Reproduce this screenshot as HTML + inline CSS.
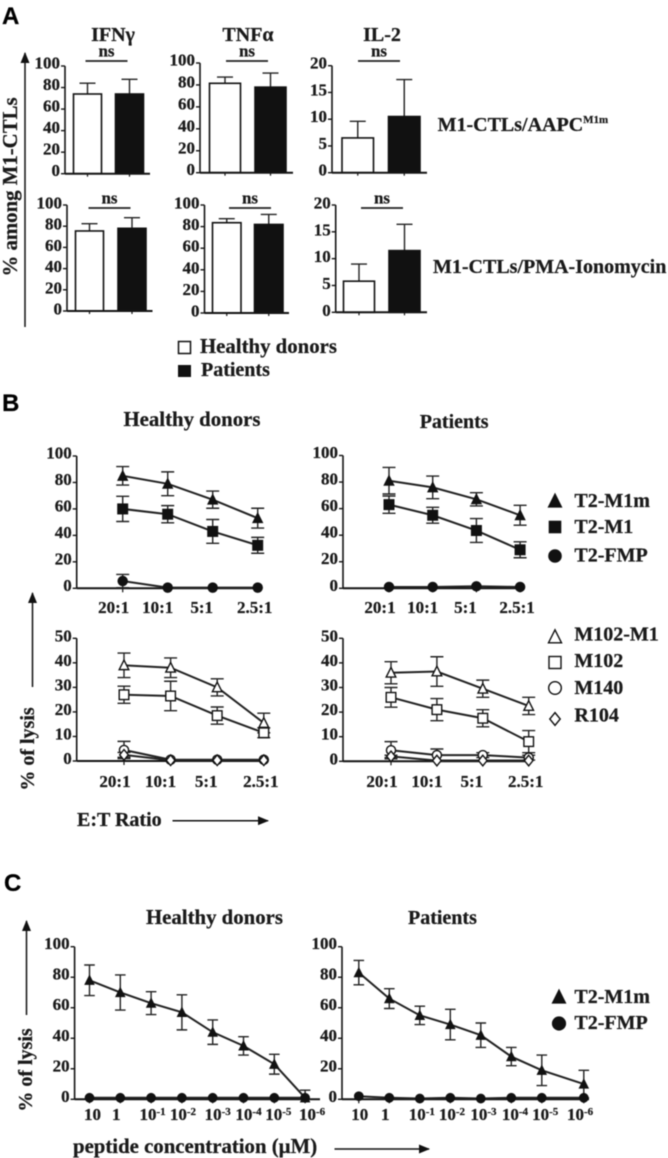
<!DOCTYPE html>
<html lang="en">
<head>
<meta charset="utf-8">
<title>Lysis and cytokine panels</title>
<style>
html,body{margin:0;padding:0;background:#fff;}
svg{display:block;filter:blur(0.6px);}
text{font-family:"Liberation Serif",serif;font-weight:bold;fill:#1a1a1a;stroke:#1a1a1a;stroke-width:0.25px;}
.h{font-family:"Liberation Sans",sans-serif;font-size:24px;fill:#000;stroke:#000;}
.t{font-size:20px;}
.w{font-size:20.8px;}
.n{font-size:17px;}
</style>
</head>
<body>
<svg id="figure" width="668" height="1158" viewBox="0 0 668 1158" xmlns="http://www.w3.org/2000/svg">
  <defs>
    <marker id="ah" markerWidth="11" markerHeight="9" refX="10" refY="4.5" orient="auto" markerUnits="userSpaceOnUse"><path d="M0,0L11,4.5L0,9Z" fill="#111"/></marker>
  </defs>
  <text class="h" x="2" y="24">A</text>
  <text class="h" x="2" y="411">B</text>
  <text class="h" x="4" y="891">C</text>

  <text class="t" x="113" y="41" text-anchor="middle">IFNγ</text>
  <text class="t" x="248" y="41" text-anchor="middle">TNFα</text>
  <text class="t" x="382" y="41" text-anchor="middle">IL-2</text>
  <text class="w" x="0" y="0" transform="translate(17,187) rotate(-90)" text-anchor="middle">% among M1-CTLs</text>
  <line x1="25" y1="327" x2="25" y2="53" stroke="#111" stroke-width="1.5" marker-end="url(#ah)"/>
  <text class="t" x="437.6" y="131">M1-CTLs/AAPC<tspan font-size="11" dy="-8">M1m</tspan></text>
  <text class="t" x="433" y="273">M1-CTLs/PMA-Ionomycin</text>
  <rect x="178.5" y="341.5" width="12" height="12" fill="#fff" stroke="#111" stroke-width="1.5"/>
  <text class="w" x="200" y="353">Healthy donors</text>
  <rect x="178" y="365" width="13" height="12" fill="#111"/>
  <text class="t" x="201" y="376">Patients</text>

  <text class="w" x="123.5" y="426">Healthy donors</text>
  <text class="t" x="419.7" y="428">Patients</text>
  <text class="t" x="0" y="0" transform="translate(34,749) rotate(-90)" text-anchor="middle">% of lysis</text>
  <line x1="32.5" y1="687" x2="32.5" y2="593" stroke="#111" stroke-width="1.5" marker-end="url(#ah)"/>
  <text class="t" x="77" y="826">E:T Ratio</text>
  <line x1="172.5" y1="820.7" x2="268" y2="820.7" stroke="#111" stroke-width="1.5" marker-end="url(#ah)"/>

  <text class="w" x="146" y="924">Healthy donors</text>
  <text class="t" x="408" y="924">Patients</text>
  <text class="t" x="0" y="0" transform="translate(32,1070) rotate(-90)" text-anchor="middle">% of lysis</text>
  <line x1="26.5" y1="1015" x2="26.5" y2="921" stroke="#111" stroke-width="1.5" marker-end="url(#ah)"/>
  <text class="w" x="73" y="1153">peptide concentration (µM)</text>
  <line x1="334.5" y1="1149" x2="429" y2="1149" stroke="#111" stroke-width="1.5" marker-end="url(#ah)"/>
</svg>
<script>
// ---- Panel A data (percent or IL-2 scale) ----
const yTicks100 = [0, 20, 40, 60, 80, 100];
const yTicks50 = [0, 10, 20, 30, 40, 50];
const yTicks20 = [0, 5, 10, 15, 20];
const cytokines = ['ifn-gamma', 'tnf-alpha', 'il2'];
const aapcHealthy = [74, 81.5, 6.5];
const aapcHealthyErr = [10, 5.7, 3.1];
const aapcPatients = [74, 78, 10.5];
const aapcPatientsErr = [13.6, 12.8, 6.9];
const pmaHealthy = [75.5, 83.6, 5.8];
const pmaHealthyErr = [6.9, 3.7, 3.2];
const pmaPatients = [78, 82, 11.5];
const pmaPatientsErr = [10, 9.3, 4.9];

// ---- Panel B data ----
const ratioLabels = ['20:1', '10:1', '5:1', '2.5:1'];
const hdM1m = [85, 79, 67, 53];
const hdM1mErr = [7, 9, 6.5, 7.5];
const hdM1 = [60, 56, 43, 32.5];
const hdM1Err = [9.5, 6.5, 9, 6];
const hdFmp = [5.5, 0.5, 0.5, 0.5];
const hdFmpErr = [5, 0, 0, 0];
const ptM1m = [81, 76, 67, 55];
const ptM1mErr = [10, 8.5, 5, 7.5];
const ptM1 = [63, 55, 43.5, 29];
const ptM1Err = [6.5, 6, 9, 6];
const ptFmp = [1, 1, 1.5, 1];
const ptFmpErr = [0, 0, 0, 0];
const hdM102M1 = [39, 38, 30, 15.5];
const hdM102M1Err = [5, 4, 3.5, 4];
const hdM102 = [27, 26.5, 18.5, 11.5];
const hdM102Err = [3.5, 6, 3.5, 2];
const hdM140 = [4.5, 0.5, 0.5, 0.5];
const hdM140Err = [3.5, 0, 0, 0];
const hdR104 = [2.5, 0.3, 0.3, 0.3];
const hdR104Err = [1, 0, 0, 0];
const ptM102M1 = [36, 36.5, 29.5, 22.5];
const ptM102M1Err = [4.5, 6, 3.5, 3.5];
const ptM102 = [26, 21, 17.5, 8];
const ptM102Err = [4, 4.5, 3.5, 4.5];
const ptM140 = [4.5, 2.5, 2.5, 1.5];
const ptM140Err = [3.5, 2.5, 1, 1];
const ptR104 = [2, 0.3, 0.3, 0.3];
const ptR104Err = [0.5, 0, 0, 0];

// ---- Panel C data ----
const concBase = ['10', '1', '10', '10', '10', '10', '10', '10'];
const concExp = ['', '', '-1', '-2', '-3', '-4', '-5', '-6'];
const cHdM1m = [78, 70, 63, 57, 44, 35, 23, 1];
const cHdM1mErr = [10, 11.5, 7.5, 11.5, 8, 6, 6.5, 5];
const cHdFmp = [1, 1, 1, 1, 1, 1, 1, 1];
const cPtM1m = [83, 66, 55, 49, 42, 28, 19, 10];
const cPtM1mErr = [8, 6.5, 6, 10, 8, 6, 10, 9];
const cPtFmp = [2, 1, 0.5, 1, 0.5, 1, 1, 1];

const svg = document.getElementById('figure');
const NS = 'http://www.w3.org/2000/svg';
const INK = '#141414';

function el(tag, attrs, parent) {
  const node = document.createElementNS(NS, tag);
  for (const k in attrs) node.setAttribute(k, attrs[k]);
  (parent || svg).appendChild(node);
  return node;
}

function linearY(frame, yMax) {
  return v => frame.bottom - (v / yMax) * (frame.bottom - frame.top);
}

function drawYAxis(g, frame, ticks, yMax, yOf, labelDy) {
  const axis = el('line', {x1: frame.left, y1: frame.top, x2: frame.left, y2: frame.bottom, stroke: INK, 'stroke-width': 1.6}, g);
  
  
  ticks.forEach(t => {
    const y = yOf(t);
    const mark = el('line', {x1: frame.left - 4, y1: y, x2: frame.left, y2: y, stroke: INK, 'stroke-width': 1.4}, g);
    
    
    const label = el('text', {x: frame.left - 5, y: y + labelDy, 'text-anchor': 'end', 'font-size': 17}, g);
    
    
    label.textContent = t;
  });
}

function drawXAxisLine(g, frame) {
  const axis = el('line', {x1: frame.left, y1: frame.bottom, x2: frame.right, y2: frame.bottom, stroke: INK, 'stroke-width': 2}, g);
  
  
}

function errorBar(g, x, yOf, value, err, capHalf, both) {
  if (err <= 0) return;
  const top = yOf(value + err);
  const low = both ? yOf(Math.max(0, value - err)) : yOf(value);
  const bar = el('path', {
    d: 'M' + x + ',' + low + 'L' + x + ',' + top + 'M' + (x - capHalf) + ',' + top + 'L' + (x + capHalf) + ',' + top +
       (both ? 'M' + (x - capHalf) + ',' + low + 'L' + (x + capHalf) + ',' + low : ''),
    fill: 'none', stroke: '#222', 'stroke-width': 1.4
  }, g);
  
  
}

function barPanel(name, frame, bars, idx, ticks, yMax, healthy, healthyErr, patients, patientsErr, labelDy) {
  const g = el('g', {});
  
  
  const yOf = linearY(frame, yMax);
  const drawOne = (x, value, err, fill, label) => {
    const cx = x + bars.width / 2;
    errorBar(g, cx, yOf, value, err[idx], 8, false);
    const rect = el('rect', {x: x, y: yOf(value), width: bars.width, height: frame.bottom - yOf(value), fill: fill, stroke: '#111', 'stroke-width': 1.6}, g);
    
    
    const tick = el('line', {x1: cx, y1: frame.bottom, x2: cx, y2: frame.bottom + 3, stroke: INK, 'stroke-width': 1.2}, g);
    
    
  };
  drawOne(bars.first, healthy[idx], healthyErr, '#fff', 'bar-healthy-donors');
  drawOne(bars.second, patients[idx], patientsErr, '#111', 'bar-patients');
  drawYAxis(g, frame, ticks, yMax, yOf, labelDy);
  drawXAxisLine(g, frame);
  const sig = el('line', {x1: bars.sigLeft, y1: bars.sigY, x2: bars.sigLeft + 42, y2: bars.sigY, stroke: '#222', 'stroke-width': 1.8}, g);
  
  
  const ns = el('text', {x: bars.sigLeft + 21, y: bars.sigY - 4.5, 'text-anchor': 'middle', 'class': 'n'}, g);
  
  
  ns.textContent = 'ns';
}

function drawMarker(g, kind, x, y, size, name) {
  let node;
  const s = size;
  if (kind === 'triangle' || kind === 'openTriangle') {
    node = el('path', {d: 'M' + x + ',' + (y - s * 1.1) + 'L' + (x + s) + ',' + (y + s * 0.9) + 'L' + (x - s) + ',' + (y + s * 0.9) + 'Z'}, g);
  } else if (kind === 'square' || kind === 'openSquare') {
    node = el('rect', {x: x - s, y: y - s, width: s * 2, height: s * 2}, g);
  } else if (kind === 'circle' || kind === 'openCircle') {
    node = el('circle', {cx: x, cy: y, r: s}, g);
  } else {
    node = el('path', {d: 'M' + x + ',' + (y - s * 1.1) + 'L' + (x + s * 0.9) + ',' + y + 'L' + x + ',' + (y + s * 1.1) + 'L' + (x - s * 0.9) + ',' + y + 'Z'}, g);
  }
  const open = kind.indexOf('open') === 0 || kind === 'diamond';
  node.setAttribute('fill', open ? '#fff' : '#111');
  node.setAttribute('stroke', '#111');
  node.setAttribute('stroke-width', open ? 1.4 : 0.6);
  
  
  return node;
}

function linePanel(name, frame, xAxis, ticks, yMax, seriesList, drawLabels, labelDy, capHalf, size) {
  const g = el('g', {});
  
  
  const yOf = linearY(frame, yMax);
  const xOf = i => xAxis.start + i * xAxis.step + (i === xAxis.count - 1 ? (xAxis.lastGap || 0) : 0);
  drawYAxis(g, frame, ticks, yMax, yOf, labelDy);
  drawXAxisLine(g, frame);
  for (let i = 0; i < xAxis.count; i++) {
    const tick = el('line', {x1: xOf(i), y1: frame.bottom, x2: xOf(i), y2: frame.bottom + 4, stroke: INK, 'stroke-width': 1.2}, g);
    
    
  }
  drawLabels(g, xOf);
  seriesList.forEach(s => {
    const path = s.values.map((v, i) => (i ? 'L' : 'M') + xOf(i) + ',' + yOf(v)).join('');
    const line = el('path', {d: path, fill: 'none', stroke: '#222', 'stroke-width': 2}, g);
    
    
    s.values.forEach((v, i) => {
      if (s.err) errorBar(g, xOf(i), yOf, v, s.err[i], capHalf, true);
      drawMarker(g, s.kind, xOf(i), yOf(v), s.kind.indexOf('Circle') > 0 || s.kind === 'circle' ? size * 0.95 : size, 'point-' + s.name);
    });
  });
}

function ratioLabelsDrawer(baseline) {
  const shift = [-9, -10, -11, -3];
  return (g, xOf) => ratioLabels.forEach((txt, i) => {
    const label = el('text', {x: xOf(i) + shift[i], y: baseline, 'text-anchor': 'middle', 'font-size': 17}, g);
    
    
    label.textContent = txt;
  });
}

function concLabelsDrawer(baseline, shift) {
  return (g, xOf) => concBase.forEach((txt, i) => {
    const label = el('text', {x: xOf(i) + shift[i], y: baseline, 'text-anchor': 'middle', 'font-size': 17}, g);
    
    
    label.textContent = txt;
    if (concExp[i]) {
      const sup = el('tspan', {dy: -5, 'font-size': 11}, label);
      sup.textContent = concExp[i];
    }
  });
}

// Panel A
barPanel('bar-panel-ifn-aapc', {left: 65, right: 150, top: 66, bottom: 173.7}, {first: 73.5, second: 115.5, width: 28, sigLeft: 85.5, sigY: 61}, 0, yTicks100, 100, aapcHealthy, aapcHealthyErr, aapcPatients, aapcPatientsErr, 2.5);
barPanel('bar-panel-tnf-aapc', {left: 200, right: 293, top: 63, bottom: 172.7}, {first: 209.5, second: 255, width: 31, sigLeft: 226, sigY: 61}, 1, yTicks100, 100, aapcHealthy, aapcHealthyErr, aapcPatients, aapcPatientsErr, 2.5);
barPanel('bar-panel-il2-aapc', {left: 332, right: 427, top: 65.7, bottom: 172.7}, {first: 342, second: 388.5, width: 31.5, sigLeft: 358, sigY: 61}, 2, yTicks20, 20, aapcHealthy, aapcHealthyErr, aapcPatients, aapcPatientsErr, 3);
barPanel('bar-panel-ifn-pma', {left: 67, right: 152.5, top: 205, bottom: 311}, {first: 75.5, second: 118, width: 28, sigLeft: 88.5, sigY: 208}, 0, yTicks100, 100, pmaHealthy, pmaHealthyErr, pmaPatients, pmaPatientsErr, 3.5);
barPanel('bar-panel-tnf-pma', {left: 204.5, right: 289, top: 205, bottom: 313}, {first: 212.5, second: 254.5, width: 28.5, sigLeft: 229, sigY: 208}, 1, yTicks100, 100, pmaHealthy, pmaHealthyErr, pmaPatients, pmaPatientsErr, 3.5);
barPanel('bar-panel-il2-pma', {left: 335.7, right: 427, top: 205, bottom: 312.3}, {first: 343.5, second: 389, width: 31, sigLeft: 361, sigY: 208}, 2, yTicks20, 20, pmaHealthy, pmaHealthyErr, pmaPatients, pmaPatientsErr, 3.5);

// Panel B
linePanel('line-panel-t2-healthy', {left: 76.7, right: 262, top: 456, bottom: 588.3}, {start: 122.7, step: 45, count: 4}, yTicks100, 100, [
  {name: 't2-m1m', kind: 'triangle', values: hdM1m, err: hdM1mErr},
  {name: 't2-m1', kind: 'square', values: hdM1, err: hdM1Err},
  {name: 't2-fmp', kind: 'circle', values: hdFmp, err: hdFmpErr}
], ratioLabelsDrawer(613), 2.5, 6.5, 5.2);
linePanel('line-panel-t2-patients', {left: 343, right: 523, top: 455.5, bottom: 588.3}, {start: 389, step: 43.7, count: 4}, yTicks100, 100, [
  {name: 't2-m1m', kind: 'triangle', values: ptM1m, err: ptM1mErr},
  {name: 't2-m1', kind: 'square', values: ptM1, err: ptM1Err},
  {name: 't2-fmp', kind: 'circle', values: ptFmp, err: ptFmpErr}
], ratioLabelsDrawer(613), 2.5, 6.5, 5.2);
linePanel('line-panel-m102-healthy', {left: 76.7, right: 264, top: 638.3, bottom: 761}, {start: 124, step: 46.6, count: 4}, yTicks50, 50, [
  {name: 'm102-m1', kind: 'openTriangle', values: hdM102M1, err: hdM102M1Err},
  {name: 'm102', kind: 'openSquare', values: hdM102, err: hdM102Err},
  {name: 'm140', kind: 'openCircle', values: hdM140, err: hdM140Err},
  {name: 'r104', kind: 'diamond', values: hdR104, err: hdR104Err}
], ratioLabelsDrawer(787), 3, 6.5, 4.8);
linePanel('line-panel-m102-patients', {left: 343, right: 530, top: 638.3, bottom: 761.3}, {start: 391, step: 45.9, count: 4}, yTicks50, 50, [
  {name: 'm102-m1', kind: 'openTriangle', values: ptM102M1, err: ptM102M1Err},
  {name: 'm102', kind: 'openSquare', values: ptM102, err: ptM102Err},
  {name: 'm140', kind: 'openCircle', values: ptM140, err: ptM140Err},
  {name: 'r104', kind: 'diamond', values: ptR104, err: ptR104Err}
], ratioLabelsDrawer(787), 3, 6.5, 4.8);

// Panel C
linePanel('line-panel-peptide-healthy', {left: 74.6, right: 320, top: 946.7, bottom: 1099.3}, {start: 89.5, step: 30.8, count: 8}, yTicks100, 100, [
  {name: 't2-m1m', kind: 'triangle', values: cHdM1m, err: cHdM1mErr},
  {name: 't2-fmp', kind: 'circle', values: cHdFmp, err: null}
], concLabelsDrawer(1120, [3, -4, 1.5, 1, 5, 5, 4, 7]), 2.5, 5.3, 4.8);
linePanel('line-panel-peptide-patients', {left: 342, right: 589, top: 946.7, bottom: 1099.3}, {start: 358.8, step: 30.5, count: 8, lastGap: 11.5}, yTicks100, 100, [
  {name: 't2-m1m', kind: 'triangle', values: cPtM1m, err: cPtM1mErr},
  {name: 't2-fmp', kind: 'circle', values: cPtFmp, err: null}
], concLabelsDrawer(1120, [1, -4, 2, 1.6, 2.6, 3.6, 3.4, -3.7]), 2.5, 5.3, 4.8);

// Legends for B and C
const legendGroup = el('g', {});


function legendEntry(kind, label, mx, my, tx, ty, size) {
  const g = el('g', {}, legendGroup);
  
  
  drawMarker(g, kind, mx, my, size, 'legend-marker');
  const text = el('text', {x: tx, y: ty, 'class': 't'}, g);
  
  
  text.textContent = label;
}
legendEntry('triangle', 'T2-M1m', 555, 501, 574.4, 507, 7);
legendEntry('square', 'T2-M1', 555, 527, 574.4, 533, 6);
legendEntry('circle', 'T2-FMP', 555, 556, 574.4, 561.7, 6.5);
legendEntry('openTriangle', 'M102-M1', 555, 637, 574.4, 640.7, 6.5);
legendEntry('openSquare', 'M102', 555, 662.5, 574.4, 667, 6);
legendEntry('openCircle', 'M140', 555, 688, 574.4, 694, 6.3);
legendEntry('diamond', 'R104', 555, 719, 574.4, 721.7, 5.8);
legendEntry('triangle', 'T2-M1m', 559, 997, 574.4, 1003, 7);
legendEntry('circle', 'T2-FMP', 559, 1023.5, 574.4, 1029, 6.8);
</script>
</body>
</html>
